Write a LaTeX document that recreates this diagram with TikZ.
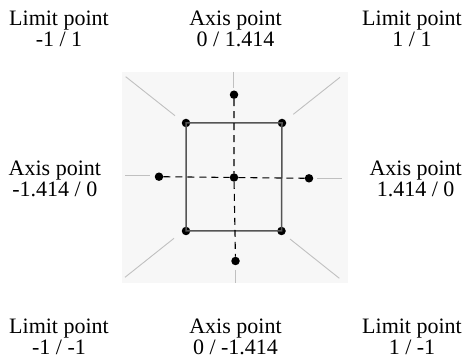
\documentclass[tikz,border=0pt]{standalone}
\usepackage{fontspec}
\setmainfont{Liberation Serif}
\definecolor{bgfill}{HTML}{F7F7F7}
\definecolor{boxline}{HTML}{555555}
\definecolor{guide}{HTML}{C0C0C0}
\tikzset{
  lbl/.style={inner sep=0pt, align=center, font=\fontsize{22}{20.5}\selectfont},
  dot/.style={circle, fill=black, inner sep=0pt, minimum size=8.5pt},
  guideline/.style={draw=guide, line width=0.9pt},
  boxedge/.style={draw=boxline, line width=1.5pt},
  axisline/.style={draw=black, line width=1.1pt, dash pattern=on 7pt off 5pt},
}
\begin{document}
\begin{tikzpicture}[x=1pt,y=1pt]
\useasboundingbox (0,0) rectangle (470,361);
\fill[bgfill] (122,78) rectangle (348,289);
% guide line end points
\coordinate (tv1) at (233.5,289.3); \coordinate (tv2) at (233.5,273);
\coordinate (bv1) at (235.5,91); \coordinate (bv2) at (235.5,78);
\coordinate (lh1) at (125.3,186); \coordinate (lh2) at (149.7,186);
\coordinate (rh1) at (317.3,182.7); \coordinate (rh2) at (341.7,182.7);
\coordinate (tl1) at (125.7,284.3); \coordinate (tl2) at (175,245.3);
\coordinate (tr1) at (293.3,246.7); \coordinate (tr2) at (340,283.7);
\coordinate (bl1) at (174,122.7); \coordinate (bl2) at (125,83.7);
\coordinate (br1) at (290,122); \coordinate (br2) at (339.3,82.7);
\draw[guideline] (tv1) -- (tv2);
\draw[guideline] (bv1) -- (bv2);
\draw[guideline] (lh1) -- (lh2);
\draw[guideline] (rh1) -- (rh2);
\draw[guideline] (tl1) -- (tl2);
\draw[guideline] (tr1) -- (tr2);
\draw[guideline] (bl1) -- (bl2);
\draw[guideline] (br1) -- (br2);
% points
\node[dot] (ctl) at (186,238) {};
\node[dot] (ctr) at (282,238) {};
\node[dot] (cbl) at (186,130) {};
\node[dot] (cbr) at (281.5,130) {};
\node[dot] (c) at (234,183.5) {};
\node[dot] (at) at (234,266.3) {};
\node[dot] (ab) at (235.5,100) {};
\node[dot] (al) at (159,184.3) {};
\node[dot] (ar) at (309,182.7) {};
\draw[boxedge] (ctl.center) -- (ctr.center) -- (cbr.center) -- (cbl.center) -- cycle;
\draw[axisline] (al) -- (c) -- (ar);
\draw[axisline] (at) -- (c) -- (ab);
% labels
\node[lbl, anchor=base west] (ltl) at (9,314.5) {Limit point\\-1 / 1};
\node[lbl, anchor=base] (lt) at (235.5,314.5) {Axis point\\0 / 1.414};
\node[lbl, anchor=base east] (ltr) at (462,314.5) {Limit point\\1 / 1};
\node[lbl, anchor=base west] (ll) at (8.5,164.5) {Axis point\\-1.414 / 0};
\node[lbl, anchor=base east] (lr) at (462,164.5) {Axis point\\1.414 / 0};
\node[lbl, anchor=base west] (lbl) at (9,7) {Limit point\\-1 / -1};
\node[lbl, anchor=base] (lb) at (235.5,7) {Axis point\\0 / -1.414};
\node[lbl, anchor=base east] (lbr) at (462,7) {Limit point\\1 / -1};
\end{tikzpicture}
\end{document}
